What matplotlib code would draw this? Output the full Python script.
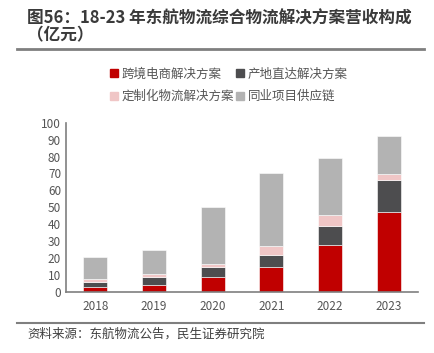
import matplotlib
matplotlib.use('Agg')
from matplotlib import pyplot as plt
from matplotlib.patches import Patch
from matplotlib.lines import Line2D
import numpy as np

plt.rcParams['font.family'] = ['Noto Sans CJK SC', 'DejaVu Sans']

years = ['2018', '2019', '2020', '2021', '2022', '2023']
names = ['跨境电商解决方案', '产地直达解决方案', '定制化物流解决方案', '同业项目供应链']
cross_border = [3.0, 4.1, 8.7, 14.5, 27.6, 47.2]
origin_direct = [2.9, 4.8, 5.7, 7.4, 11.4, 19.1]
custom = [1.8, 1.8, 1.8, 5.3, 6.4, 3.2]
industry = [13.0, 13.8, 33.9, 42.8, 33.5, 22.6]
colors = ['#C00000', '#4D4D4F', '#F0C6C6', '#B3B3B3']

fig = plt.figure(figsize=(4.34, 3.53), dpi=100)
ax = fig.add_axes([0.152, 0.174, 0.811, 0.478])

x = np.arange(len(years))
bottom = np.zeros(len(years))
for vals, c in zip([cross_border, origin_direct, custom, industry], colors):
    ax.bar(x, vals, 0.41, bottom=bottom, color=c, edgecolor='white', linewidth=0.4)
    bottom += np.array(vals)

ax.set_xlim(-0.5, 5.5)
ax.set_ylim(0, 100)
ax.set_yticks(range(0, 101, 10))
ax.set_xticks(x)
ax.set_xticklabels(years)
ax.tick_params(length=0, labelsize=8.5, colors='#555555')
ax.tick_params(axis='x', pad=6)
for s in ['top', 'right']:
    ax.spines[s].set_visible(False)
for s in ['left', 'bottom']:
    ax.spines[s].set_color('#7F7F7F')
    ax.spines[s].set_linewidth(1.2)

handles = [Patch(color=colors[i]) for i in [0, 2, 1, 3]]
labels = [names[i] for i in [0, 2, 1, 3]]
fig.legend(handles, labels, ncol=2, loc='upper left', bbox_to_anchor=(0.228, 0.84),
           frameon=False, fontsize=9, handlelength=0.6, handleheight=0.6,
           handletextpad=0.3, columnspacing=0.2, labelspacing=0.75,
           labelcolor='#555555')

fig.text(0.062, 0.948, '图56：18-23 年东航物流综合物流解决方案营收构成', fontsize=12,
         fontweight='bold', color='#3A3A3A', va='center')
fig.text(0.062, 0.899, '（亿元）', fontsize=12, fontweight='bold', color='#3A3A3A', va='center')
fig.add_artist(Line2D([0.04, 0.977], [0.861, 0.861], color='#7F7F7F', lw=2))
fig.add_artist(Line2D([0.04, 0.977], [0.085, 0.085], color='#7F7F7F', lw=1.5))
fig.text(0.062, 0.053, '资料来源：东航物流公告，民生证券研究院', fontsize=9, color='#404040', va='center')

plt.savefig('out.png', dpi=100)
